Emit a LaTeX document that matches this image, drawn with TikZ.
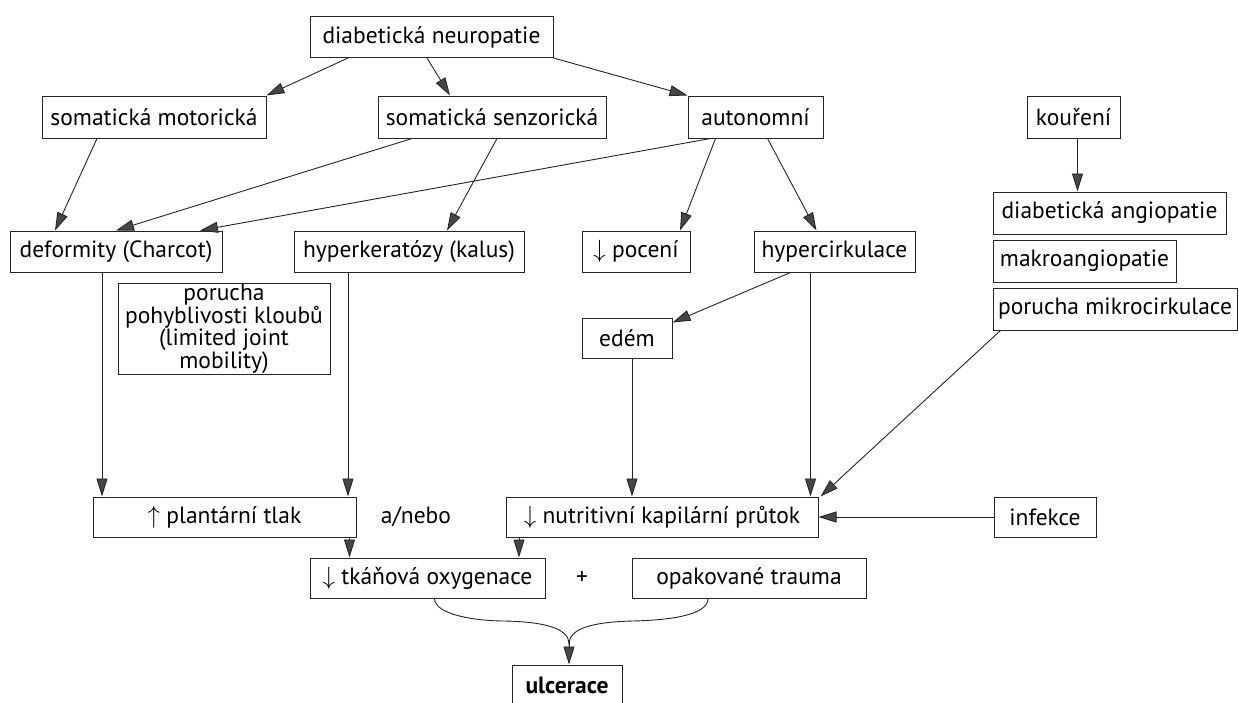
\documentclass[tikz,border=0pt]{standalone}
\usepackage{fontspec}
\setmainfont{PT Sans}
\usetikzlibrary{arrows.meta,calc}
\tikzset{
  bx/.style={draw=black!85, line width=1pt, inner sep=0pt, minimum height=41pt, font=\fontsize{23.5}{26}\selectfont},
  lbl/.style={inner sep=0pt, font=\fontsize{23.5}{26}\selectfont},
  arr/.style={draw=black!85, line width=0.9pt, -{Triangle[length=18pt,width=11pt,fill=gray!55!black]}},
  ln/.style={draw=black!85, line width=0.9pt}
}
\begin{document}
\begin{tikzpicture}[x=1pt,y=-1pt]
\useasboundingbox[fill=white] (0,0) rectangle (1239,702);
% nodes
\node[bx, minimum width=243pt] (nd) at (431.5,37) {diabetická neuropatie};
\node[bx, minimum width=224pt, minimum height=42pt] (mot) at (154,117) {somatická motorická};
\node[bx, minimum width=228pt, minimum height=42pt] (sen) at (492,117) {somatická senzorická};
\node[bx, minimum width=135pt, minimum height=42pt] (aut) at (755.5,117) {autonomní};
\node[bx, minimum width=93pt, minimum height=42pt] (kou) at (1073.5,117) {kouření};
\node[bx, minimum width=212pt] (def) at (116,251.5) {deformity (Charcot)};
\node[bx, minimum width=230pt] (hyp) at (409,251.5) {hyperkeratózy (kalus)};
\node[bx, minimum width=108pt] (poc) at (636,251.5) {$\downarrow$ pocení};
\node[bx, minimum width=161pt] (hc) at (834.5,251.5) {hypercirkulace};
\node[bx, minimum width=233pt, minimum height=42pt] (ang) at (1109.5,213) {diabetická angiopatie};
\node[bx, minimum width=183pt, minimum height=42pt] (mak) at (1084.5,261) {makroangiopatie};
\node[bx, minimum width=244pt, minimum height=42pt] (mik) at (1115,309) {porucha mikrocirkulace};
\node[bx, minimum width=212pt, minimum height=82pt, align=center, font=\fontsize{23.5}{20.5}\selectfont] (klo) at (224,329) {porucha\\pohyblivosti kloubů\\(limited joint\\mobility)};
\node[bx, minimum width=90pt, minimum height=40pt] (ede) at (627,338) {edém};
\node[bx, minimum width=263pt, minimum height=40pt] (pla) at (224.5,517) {$\uparrow$ plantární tlak};
\node[lbl] (an) at (416,517) {a/nebo};
\node[bx, minimum width=312pt, minimum height=40pt] (nut) at (662,517) {$\downarrow$ nutritivní kapilární průtok};
\node[bx, minimum width=102pt, minimum height=40pt] (inf) at (1045,517) {infekce};
\node[bx, minimum width=235pt, minimum height=40pt] (oxy) at (427.5,578) {$\downarrow$ tkáňová oxygenace};
\node[lbl] (pl) at (582,578) {+};
\node[bx, minimum width=234pt, minimum height=40pt] (tra) at (749,578) {opakované trauma};
\node[bx, minimum width=110pt, minimum height=40pt, font=\fontsize{23.5}{26}\selectfont\bfseries] (ulc) at (567,685) {ulcerace};
% arrows
\draw[arr] ([xshift=-83.5pt]nd.south) -- (mot.north east);
\draw[arr] ([xshift=-4.5pt]nd.south) -- ([xshift=-42pt]sen.north);
\draw[arr] (nd.south east) -- (aut.north west);
\draw[arr] ([xshift=-57pt]mot.south) -- ([xshift=-61pt]def.north);
\draw[arr] ([xshift=-80pt]sen.south) -- (def.north);
\draw[arr] ([xshift=5pt]sen.south) -- ([xshift=38pt]hyp.north);
\draw[arr] ([xshift=-45pt]aut.south) -- ([xshift=84pt]def.north);
\draw[arr] ([xshift=-40pt]aut.south) -- ([xshift=44pt]poc.north);
\draw[arr] ([xshift=12pt]aut.south) -- ([xshift=-18pt]hc.north);
\draw[arr] ([xshift=4pt]kou.south) -- ([xshift=4pt]kou.south |- ang.north);
\draw[arr] ([xshift=-44pt]hc.south) -- ([yshift=-5pt]ede.north east);
\draw[arr] ([xshift=-24pt]hc.south) -- ([xshift=-24pt]hc.south |- nut.north);
\draw[arr] ([xshift=5pt]ede.south) -- ([xshift=5pt]ede.south |- nut.north);
\draw[arr] ([xshift=8pt]mik.south west) -- ([xshift=2pt]nut.north east);
\draw[arr] (inf.west) -- (nut.east);
\draw[arr] ([xshift=-14pt]def.south) -- ([xshift=-14pt]def.south |- pla.north);
\draw[arr] ([xshift=-61pt]hyp.south) -- ([xshift=-61pt]hyp.south |- pla.north);
\draw[arr] ([xshift=125pt]pla.south) -- ([xshift=125pt]pla.south |- oxy.north);
\draw[arr] ([xshift=-143pt]nut.south) -- ([xshift=-143pt]nut.south |- oxy.north);
% brace
\coordinate (bl) at ([xshift=7pt]oxy.south);
\coordinate (br) at ([xshift=-41pt]tra.south);
\coordinate (tip) at (569,644);
\draw[ln] (bl) .. controls +(0,16) and +(-30,0) .. (505,621) .. controls +(45,1) and +(0,-14) .. (tip)
          .. controls +(0,-14) and +(-45,1) .. (633,621) .. controls +(40,-1) and +(0,16) .. (br);
\draw[arr] ([yshift=3pt]tip) -- (tip |- ulc.north);
\end{tikzpicture}
\end{document}
